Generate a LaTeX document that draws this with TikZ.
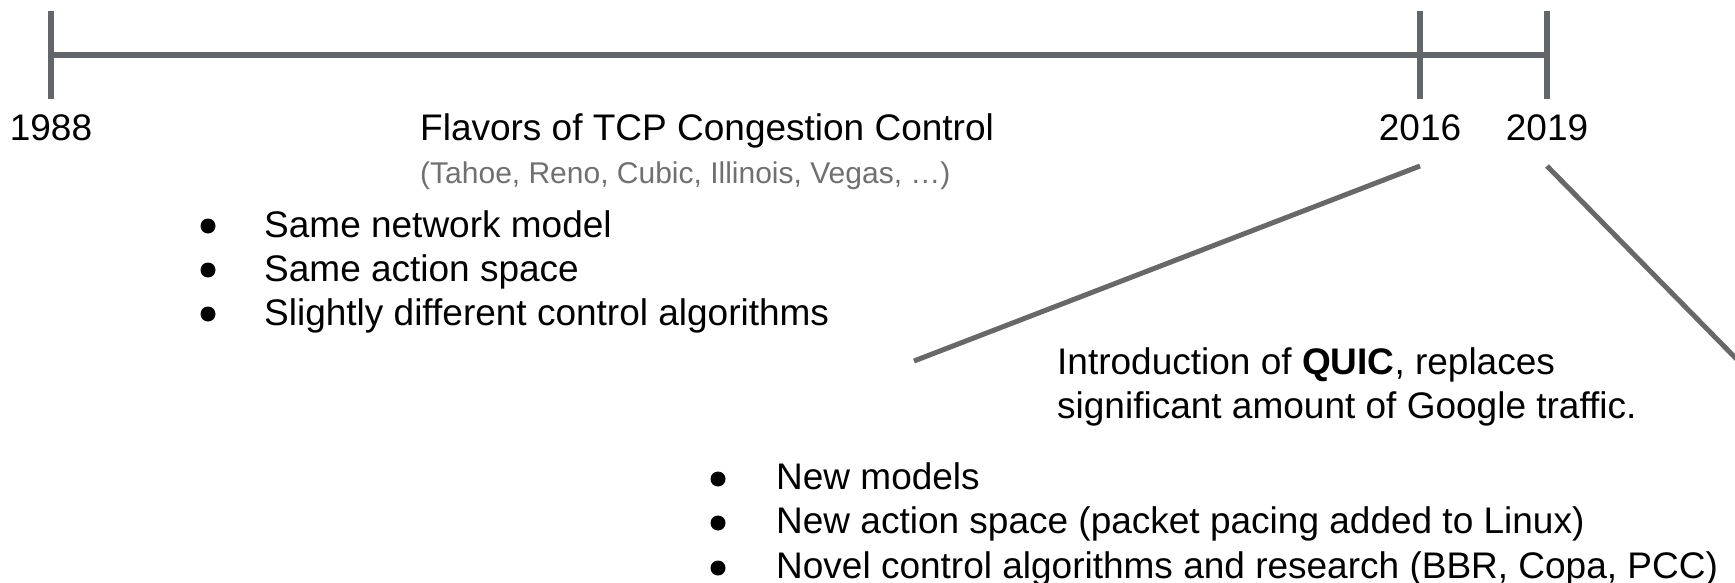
\documentclass[tikz,border=0pt]{standalone}
\usepackage{fontspec}
\setmainfont{Liberation Sans}
\definecolor{tl}{HTML}{62666A}
\definecolor{sl}{HTML}{686868}
\definecolor{subc}{HTML}{707070}
\begin{document}
\begin{tikzpicture}[x=1pt,y=-1pt,
  txt/.style={font=\fontsize{37}{44}\selectfont, inner sep=0pt, anchor=base west},
  year/.style={font=\fontsize{37}{44}\selectfont, inner sep=0pt, anchor=base},
  subtxt/.style={font=\fontsize{30}{36}\selectfont, text=subc, inner sep=0pt, anchor=base west},
  tick/.style={draw=tl, line width=6pt},
  slant/.style={draw=sl, line width=5pt},
  bul/.style={fill=black}]
\useasboundingbox (0,0) rectangle (1735,583);
\clip (0,0) rectangle (1735,583);
% timeline
\coordinate (t1988) at (51,55);
\coordinate (t2016) at (1420,55);
\coordinate (t2019) at (1547,55);
\draw[tick] (t1988) -- (t2019);
\draw[tick] (51,11) -- (51,99);
\draw[tick] (1420,11) -- (1420,99);
\draw[tick] (1547,11) -- (1547,99);
% years
\node[year] (y1988) at (51,141) {1988};
\node[year] (y2016) at (1420,141) {2016};
\node[year] (y2019) at (1547,141) {2019};
% title
\node[txt] (flav) at (420,141) {Flavors of TCP Congestion Control};
\node[subtxt] (flavsub) at (420,183) {(Tahoe, Reno, Cubic, Illinois, Vegas, …)};
% list 1
\fill[bul] (208,226) circle (7.5);
\fill[bul] (208,270) circle (7.5);
\fill[bul] (208,314) circle (7.5);
\node[txt] (a1) at (264,237) {Same network model};
\node[txt] (a2) at (264,281) {Same action space};
\node[txt] (a3) at (264,325) {Slightly different control algorithms};
% slanted lines
\coordinate (s16) at (1420,166);
\coordinate (e16) at (914,361);
\coordinate (s19) at (1547,166);
\coordinate (e19) at (1765,388);
\draw[slant] (s16) -- (e16);
\draw[slant] (s19) -- (e19);
% QUIC
\node[txt] (q1) at (1057,374) {Introduction of \textbf{QUIC}, replaces};
\node[txt] (q2) at (1057,418) {significant amount of Google traffic.};
% list 2
\fill[bul] (718,479) circle (7.5);
\fill[bul] (718,523) circle (7.5);
\fill[bul] (718,568) circle (7.5);
\node[txt] (b1) at (776,489) {New models};
\node[txt] (b2) at (776,533) {New action space (packet pacing added to Linux)};
\node[txt] (b3) at (776,578) {Novel control algorithms and research (BBR, Copa, PCC)};
\end{tikzpicture}
\end{document}
